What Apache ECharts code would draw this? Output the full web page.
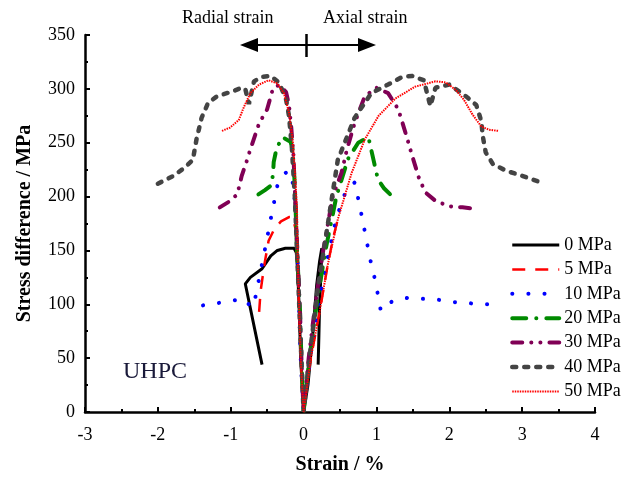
<!DOCTYPE html>
<html>
<head>
<meta charset="utf-8">
<script src="https://cdn.jsdelivr.net/npm/echarts@6/dist/echarts.min.js"></script>
<style>html,body{margin:0;padding:0;background:#fff}#c{width:623px;height:480px}</style>
</head>
<body>
<div id="c"></div>
<script>
var seriesNames = ['0 MPa', '5 MPa', '10 MPa', '20 MPa', '30 MPa', '40 MPa', '50 MPa'];
var xTicks = [-3, -2, -1, 0, 1, 2, 3, 4];
var yTicks = [0, 50, 100, 150, 200, 250, 300, 350];

var s0 = [[-0.57,44],[-0.80,119],[-0.73,125],[-0.57,133],[-0.45,145],[-0.36,150],[-0.25,152],[-0.13,152],[-0.10,148],[-0.08,130],[-0.06,96],[-0.04,50],[0,0],
  [0.06,25],[0.13,75],[0.18,118],[0.22,140],[0.25,152],[0.24,130],[0.22,100],[0.21,70],[0.20,44]];
var s5 = [[-0.61,93],[-0.59,112],[-0.54,136],[-0.48,159],[-0.40,170],[-0.31,177],[-0.20,181],[-0.15,181],[-0.11,170],[-0.09,140],[-0.06,96],[-0.04,50],[0,0],
  [0.10,50],[0.22,93],[0.33,136],[0.40,160],[0.47,179]];
var s10 = [[-1.38,99],[-1.19,101],[-1.01,103],[-0.82,105],[-0.71,97],[-0.66,107],[-0.61,124],[-0.56,141],[-0.51,158],[-0.46,176],[-0.41,193],[-0.36,210],[-0.28,220],[-0.21,224],[-0.15,213],[-0.11,190],[-0.08,140],[-0.06,96],[-0.04,50],[0,0],
  [0.09,50],[0.20,100],[0.32,140],[0.45,180],[0.58,205],[0.70,213],[0.76,195],[0.81,178],[0.86,161],[0.91,143],[0.97,126],[1.02,109],[1.06,94],[1.22,103],[1.43,106],[1.67,105],[1.88,104],[2.07,102],[2.27,101],[2.46,100],[2.64,100]];
var s20 = [[-0.62,202],[-0.53,206],[-0.45,210],[-0.42,220],[-0.41,232],[-0.37,245],[-0.29,255],[-0.18,251],[-0.15,244],[-0.12,210],[-0.09,150],[-0.05,96],[-0.03,50],[0,0],
  [0.08,50],[0.18,100],[0.30,150],[0.45,200],[0.61,235],[0.75,250],[0.89,255],[0.97,231],[1.02,216],[1.10,208],[1.19,202]];
var s30 = [[-1.15,190],[-1.03,195],[-0.91,202],[-0.85,219],[-0.78,233],[-0.73,244],[-0.61,268],[-0.50,281],[-0.43,298],[-0.38,303],[-0.32,303],[-0.24,297],[-0.20,285],[-0.17,265],[-0.14,240],[-0.11,190],[-0.08,140],[-0.05,96],[-0.03,50],[0,0],
  [0.07,50],[0.16,100],[0.27,150],[0.40,200],[0.52,222],[0.60,245],[0.70,268],[0.84,293],[1.00,301],[1.16,296],[1.30,281],[1.40,259],[1.49,238],[1.58,218],[1.67,204],[1.81,196],[2.00,191],[2.18,190],[2.30,189]];
var s40 = [[-2.00,212],[-1.79,219],[-1.63,227],[-1.52,234],[-1.47,253],[-1.40,273],[-1.31,287],[-1.19,293],[-0.96,298],[-0.85,301],[-0.80,300],[-0.75,286],[-0.68,307],[-0.58,311],[-0.45,312],[-0.36,307],[-0.30,300],[-0.24,290],[-0.20,275],[-0.16,245],[-0.12,200],[-0.09,150],[-0.06,100],[-0.03,50],[0,0],
  [0.08,50],[0.19,112],[0.30,160],[0.47,234],[0.70,273],[0.93,296],[1.16,304],[1.35,311],[1.49,312],[1.65,308],[1.74,284],[1.81,301],[2.00,304],[2.23,293],[2.37,285],[2.44,270],[2.46,256],[2.50,241],[2.60,230],[2.78,224],[3.01,219],[3.22,214]];
var s50 = [[-1.12,261],[-1.01,264],[-0.89,271],[-0.82,283],[-0.73,296],[-0.61,304],[-0.48,308],[-0.36,305],[-0.27,296],[-0.20,278],[-0.15,253],[-0.12,225],[-0.09,188],[-0.08,142],[-0.06,96],[-0.04,50],[0,0],
  [0.10,50],[0.22,93],[0.33,136],[0.47,179],[0.66,222],[0.84,253],[1.03,275],[1.26,291],[1.53,302],[1.81,307],[1.95,306],[2.09,299],[2.20,290],[2.32,276],[2.44,265],[2.55,262],[2.67,261]];

var allData = [s0, s5, s10, s20, s30, s40, s50];
var styles = [
  {color:'#000000', width:3, type:'solid', cap:'butt'},
  {color:'#ff0000', width:2.5, type:[13,10], cap:'butt'},
  {color:'#0000ff', width:4, type:[0.1,16], cap:'round'},
  {color:'#008a00', width:4, type:[14,10,0.1,10], cap:'round'},
  {color:'#800055', width:4, type:[10,9,0.1,9,0.1,9], cap:'round'},
  {color:'#444444', width:4.5, type:[4,8], cap:'round'},
  {color:'#ff0000', width:2, type:[1.5,1], cap:'butt'}
];

var FONT = "'Liberation Serif','Times New Roman',serif";
var chart = echarts.init(document.getElementById('c'), null, {renderer:'canvas'});
var series = allData.map(function(d, i){
  return {
    name: seriesNames[i], type:'line', data:d, symbol:'none', showSymbol:false, smooth:false,
    lineStyle:{color:styles[i].color, width:styles[i].width, type:styles[i].type, cap:styles[i].cap},
    itemStyle:{color:styles[i].color}, z: 2 + i
  };
});
var legendData = seriesNames.map(function(n, i){
  return {name:n, lineStyle:{color:styles[i].color, width:styles[i].width, type:styles[i].type, cap:styles[i].cap}};
});
chart.setOption({
  animation:false,
  backgroundColor:'#ffffff',
  grid:{left:85, right:28, top:35, bottom:66, containLabel:false},
  xAxis:{type:'value', min:-3, max:4, interval:1,
    name:'Strain / %', nameLocation:'middle', nameGap:43,
    nameTextStyle:{fontFamily:FONT, fontSize:20, fontWeight:'bold', color:'#000'},
    axisLine:{onZero:false, lineStyle:{color:'#000', width:2.5}},
    axisTick:{inside:true, length:5, lineStyle:{color:'#000', width:2}},
    minorTick:{show:true, splitNumber:2, length:3, lineStyle:{color:'#000', width:2}},
    splitLine:{show:false},
    axisLabel:{fontFamily:FONT, fontSize:18, color:'#000', margin:14,
      formatter:function(v){return xTicks.indexOf(v)>=0 ? String(v) : '';}}
  },
  yAxis:{type:'value', min:0, max:350, interval:50,
    name:'Stress difference / MPa', nameLocation:'middle', nameGap:50, nameRotate:90,
    nameTextStyle:{fontFamily:FONT, fontSize:20, fontWeight:'bold', color:'#000'},
    axisLine:{show:true, onZero:false, lineStyle:{color:'#000', width:2.5}},
    axisTick:{show:true, inside:true, length:5, lineStyle:{color:'#000', width:2}},
    minorTick:{show:true, splitNumber:2, length:3, lineStyle:{color:'#000', width:2}},
    splitLine:{show:false},
    axisLabel:{fontFamily:FONT, fontSize:18, color:'#000', margin:10,
      formatter:function(v){return yTicks.indexOf(v)>=0 ? String(v) : '';}}
  },
  legend:{orient:'vertical', left:505, top:230, itemWidth:47, itemHeight:14, itemGap:4.4,
    data:legendData,
    itemStyle:{opacity:0},
    textStyle:{fontFamily:FONT, fontSize:18, color:'#000', lineHeight:20}},
  graphic:[
    {type:'text', style:{text:'Radial strain', x:182, y:18, align:'left', verticalAlign:'middle', font:'18px '+FONT, fill:'#000'}},
    {type:'text', style:{text:'Axial strain', x:323, y:18, align:'left', verticalAlign:'middle', font:'18px '+FONT, fill:'#000'}},
    {type:'line', shape:{x1:252, y1:45, x2:364, y2:45}, style:{stroke:'#000', lineWidth:2}},
    {type:'polygon', shape:{points:[[240,45],[258,38],[258,52]]}, style:{fill:'#000'}},
    {type:'polygon', shape:{points:[[376,45],[358,38],[358,52]]}, style:{fill:'#000'}},
    {type:'line', shape:{x1:306.5, y1:34, x2:306.5, y2:57}, style:{stroke:'#000', lineWidth:2.5}},
    {type:'text', style:{text:'UHPC', x:123, y:372, align:'left', verticalAlign:'middle', font:'24px '+FONT, fill:'#1a1a3a'}}
  ],
  series:series
});
</script>
</body>
</html>
